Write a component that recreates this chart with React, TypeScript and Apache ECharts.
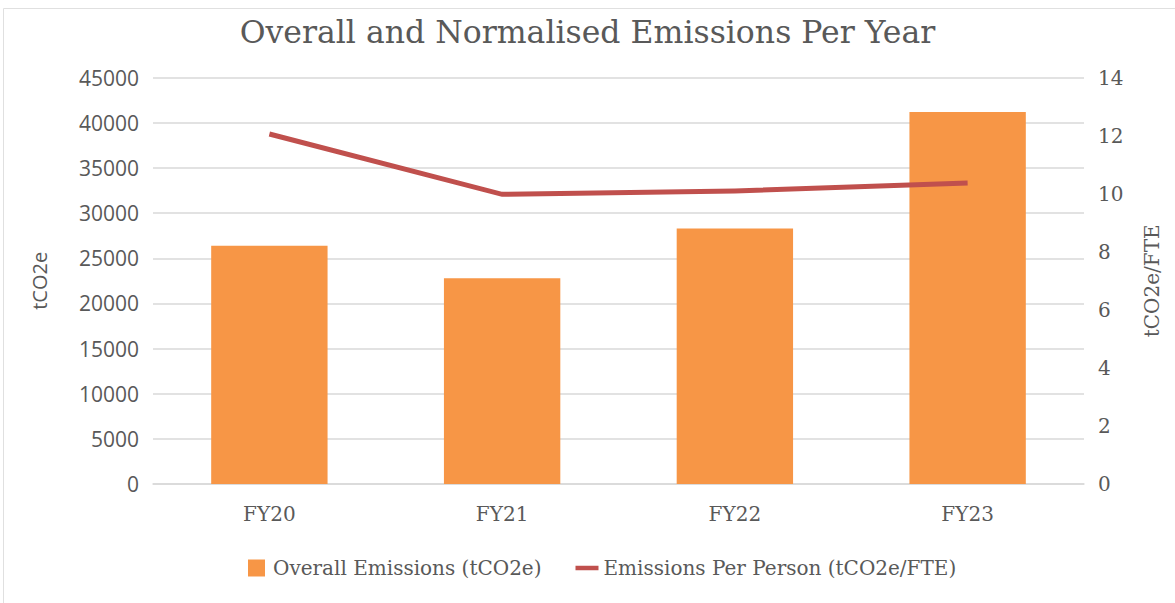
import React, { useEffect, useRef } from "react";
import * as echarts from "echarts";

const categories = ["FY20", "FY21", "FY22", "FY23"];
const overallEmissions = [26400, 22800, 28300, 41200];
const perPersonEmissions = [12.06, 9.98, 10.1, 10.37];
const leftTicks = { min: 0, max: 45000, interval: 5000 };
const rightTicks = { min: 0, max: 14, interval: 2 };

const TEXT = "#595959";
const GRID = "#D9D9D9";
const SERIF = "DejaVu Serif";
const SANS = "Open Sans";

export default function App() {
  const ref = useRef<HTMLDivElement>(null);
  useEffect(() => {
    document.body.style.margin = "0";
    if (!ref.current) return;
    const chart = echarts.init(ref.current, null, { renderer: "svg" });
    chart.setOption({
      animation: false,
      backgroundColor: "#ffffff",
      title: {
        text: "Overall and Normalised Emissions Per Year",
        left: "center",
        top: 11,
        textStyle: { fontFamily: SERIF, fontSize: 31.5, fontWeight: "normal", color: TEXT },
      },
      graphic: [
        {
          type: "rect",
          shape: { x: 3.5, y: 8.5, width: 1180, height: 700 },
          style: { fill: "none", stroke: "#E0E0E0", lineWidth: 1 },
          silent: true,
        },
      ],
      legend: {
        left: 243,
        top: 553,
        itemWidth: 23,
        itemHeight: 17,
        itemGap: 34,
        textStyle: { fontFamily: SERIF, fontSize: 20, color: TEXT },
        data: [
          { name: "Overall Emissions (tCO2e)", icon: "path://M0,0h17v17h-17z" },
          { name: "Emissions Per Person (tCO2e/FTE)", icon: "path://M0,0h23v4.5h-23z" },
        ],
      },
      grid: { left: 153, right: 91, top: 77.7, bottom: 119, containLabel: false },
      xAxis: {
        type: "category",
        data: categories,
        axisLine: { show: true, lineStyle: { color: GRID, width: 1.5 } },
        axisTick: { show: false },
        axisLabel: { fontFamily: SERIF, fontSize: 20, color: TEXT, margin: 20 },
      },
      yAxis: [
        {
          type: "value",
          min: leftTicks.min,
          max: leftTicks.max,
          interval: leftTicks.interval,
          name: "tCO2e",
          nameLocation: "middle",
          nameGap: 104,
          nameTextStyle: { fontFamily: SANS, fontSize: 20, color: TEXT },
          axisLine: { show: false },
          axisTick: { show: false },
          axisLabel: {
            fontFamily: SANS,
            fontSize: 21,
            color: TEXT,
            margin: 14,
            formatter: (v: number) => String(v),
          },
          splitLine: { show: true, lineStyle: { color: GRID, width: 1.5 } },
        },
        {
          type: "value",
          min: rightTicks.min,
          max: rightTicks.max,
          interval: rightTicks.interval,
          name: "tCO2e/FTE",
          nameLocation: "middle",
          nameGap: 58,
          nameTextStyle: { fontFamily: SERIF, fontSize: 20, color: TEXT },
          axisLine: { show: false },
          axisTick: { show: false },
          axisLabel: { fontFamily: SERIF, fontSize: 20, color: TEXT, margin: 14 },
          splitLine: { show: false },
        },
      ],
      series: [
        {
          name: "Overall Emissions (tCO2e)",
          type: "bar",
          data: overallEmissions,
          barWidth: "50%",
          itemStyle: { color: "#F79646" },
          yAxisIndex: 0,
        },
        {
          name: "Emissions Per Person (tCO2e/FTE)",
          type: "line",
          data: perPersonEmissions,
          yAxisIndex: 1,
          symbol: "none",
          itemStyle: { color: "#C0504D" },
          lineStyle: { color: "#C0504D", width: 5, cap: "butt", join: "miter" },
        },
      ],
    });
    return () => chart.dispose();
  }, []);
  return <div ref={ref} style={{ width: 1175, height: 603 }} />;
}
